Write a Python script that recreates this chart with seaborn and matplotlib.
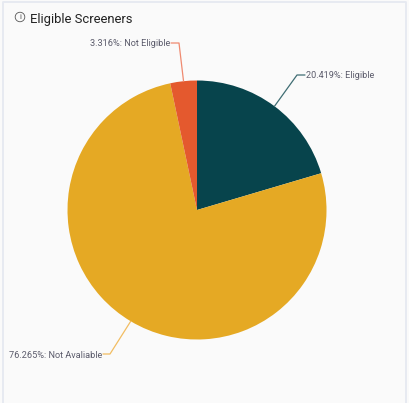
"""Eligible Screeners pie chart."""

import numpy as np
import matplotlib
matplotlib.use('Agg')
import matplotlib.pyplot as plt
from matplotlib.lines import Line2D
from matplotlib.patches import Circle
import seaborn as sns

categories = ['Eligible', 'Not Avaliable', 'Not Eligible']
values = [20.419, 76.265, 3.316]
colors = ['#07444c', '#e5a924', '#e4592e']
line_colors = ['#3f6d73', '#f2bd62', '#ef8a70']

W, H = 409, 403

sns.set_theme(style='white')
plt.rcParams['font.family'] = ['Roboto', 'DejaVu Sans']

fig = plt.figure(figsize=(W / 100, H / 100), dpi=100, facecolor='#fafafa')


def px(x, y):
    # pixel position measured from the top left corner
    return x / W, 1 - y / H


def leader(points, color, lw=0.9):
    xs, ys = zip(*[px(*p) for p in points])
    fig.add_artist(Line2D(xs, ys, color=color, lw=lw, transform=fig.transFigure))


# card border, open at the bottom
leader([(2.5, 403), (2.5, 1.5), (405.5, 1.5), (405.5, 403)], '#e6e9f1', lw=1.3)

# pie
cx, cy, r = 197, 210, 129.5
ax = fig.add_axes([(cx - r) / W, 1 - (cy + r) / H, 2 * r / W, 2 * r / H])
wedges, _ = ax.pie(values, colors=colors, startangle=90, counterclock=False, radius=1,
                   wedgeprops={'linewidth': 0})
ax.set_xlim(-1, 1)
ax.set_ylim(-1, 1)
ax.set_aspect('equal')
ax.axis('off')

# labels: elbow and text anchor, in pixels
layout = [((297, 75), (305, 75), (306, 76), 'left'),
          ((110, 354), (103, 354), (102, 355), 'right'),
          ((179, 43), (171, 43), (170, 44), 'right')]

for wedge, cat, val, lc, (elbow, end, anchor, ha) in zip(wedges, categories, values,
                                                         line_colors, layout):
    mid = np.deg2rad((wedge.theta1 + wedge.theta2) / 2)
    start = (cx + r * np.cos(mid), cy - r * np.sin(mid))
    leader([start, elbow, end], lc)
    tx, ty = px(*anchor)
    fig.text(tx, ty, f'{val:.3f}%: {cat}', ha=ha, va='center', fontsize=6.6, color='#5b5b6b')

# title and info icon
tx, ty = px(30, 19)
fig.text(tx, ty, 'Eligible Screeners', ha='left', va='center', fontsize=9.4, color='#222222')
fig.add_artist(Circle(px(20, 17), 4.8 / W, transform=fig.transFigure, fill=False,
                      ec='#555555', lw=0.6))
tx, ty = px(20, 17)
fig.text(tx, ty, 'i', ha='center', va='center', fontsize=5.5, color='#444444')

fig.savefig('out.png', dpi=100, facecolor=fig.get_facecolor())
